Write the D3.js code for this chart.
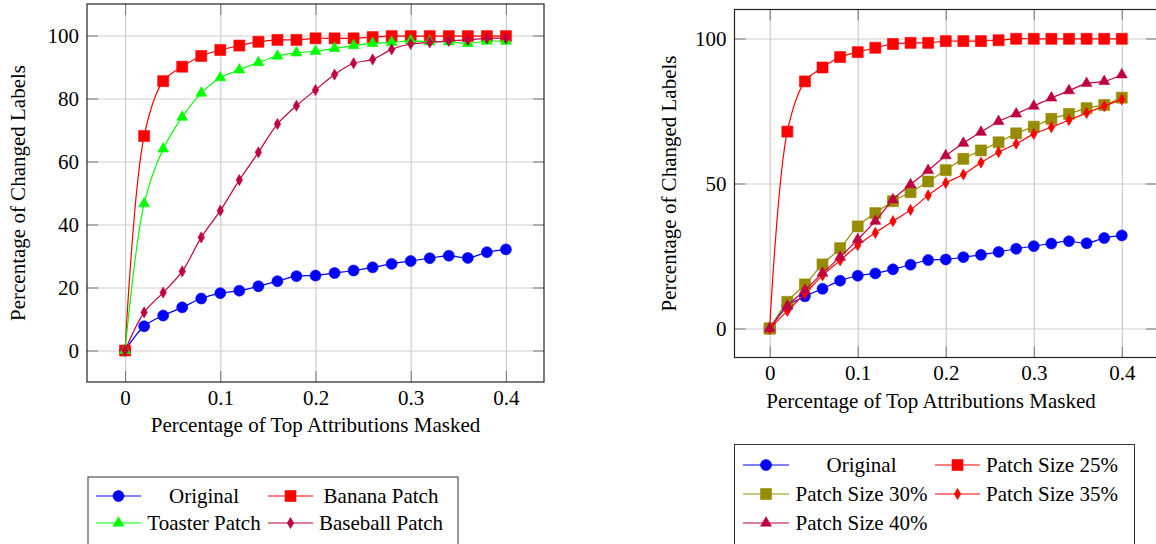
<!DOCTYPE html>
<html>
<head>
<meta charset="utf-8">
<script src="https://cdn.jsdelivr.net/npm/d3@7"></script>
<style>
  body { margin: 0; background: #fff; }
  text { font-family: "Liberation Serif", "DejaVu Serif", serif; font-size: 21px; fill: #000; }
</style>
</head>
<body>
<div id="chart"></div>
<script>
// shared x positions (fraction of top attributions masked)
const maskFractions = [0, 0.02, 0.04, 0.06, 0.08, 0.1, 0.12, 0.14, 0.16, 0.18, 0.2,
                       0.22, 0.24, 0.26, 0.28, 0.3, 0.32, 0.34, 0.36, 0.38, 0.4];
const xTicks = [0, 0.1, 0.2, 0.3, 0.4];
const xTickLabels = ["0", "0.1", "0.2", "0.3", "0.4"];
const yTicksLeft = [0, 20, 40, 60, 80, 100];
const yTicksRight = [0, 50, 100];

// left chart: patch types
const originalValues = [0, 7.7, 11.1, 13.7, 16.5, 18.2, 19.0, 20.4, 22.0, 23.6, 23.8,
                        24.6, 25.4, 26.4, 27.5, 28.4, 29.3, 30.1, 29.4, 31.2, 32.1];
const bananaValues = [0, 68.1, 85.5, 90.1, 93.5, 95.4, 96.8, 98.0, 98.6, 98.6, 99.1,
                      99.1, 99.1, 99.5, 99.8, 99.8, 99.8, 99.8, 99.8, 99.8, 99.8];
const toasterValues = [0, 46.6, 64.0, 74.1, 81.7, 86.6, 89.1, 91.4, 93.5, 94.5, 95.0,
                       95.9, 96.8, 97.5, 97.8, 98.3, 98.0, 98.0, 97.5, 98.2, 98.2];
const baseballValues = [0, 12.1, 18.4, 25.1, 35.9, 44.4, 54.1, 62.9, 71.9, 77.7, 82.7,
                        87.6, 91.2, 92.4, 95.6, 97.3, 97.8, 98.3, 98.6, 99.1, 99.1];

// right chart: patch sizes
const size25Values = [0, 67.9, 85.2, 90.0, 93.6, 95.3, 96.8, 98.1, 98.5, 98.5, 99.1,
                      99.1, 99.1, 99.4, 99.9, 99.9, 99.9, 99.9, 99.9, 99.9, 99.9];
const size30Values = [0, 9.2, 15.2, 22.1, 27.7, 35.2, 39.8, 43.9, 47.0, 50.7, 54.6,
                      58.5, 61.4, 64.2, 67.3, 69.6, 72.3, 74.0, 76.0, 77.1, 79.6];
const size35Values = [0, 6.1, 12.0, 18.3, 23.5, 28.7, 33.0, 37.0, 40.9, 45.9, 50.2,
                      53.1, 57.2, 60.8, 63.7, 67.1, 69.4, 71.9, 74.3, 76.7, 79.0];
const size40Values = [0, 7.7, 13.2, 19.1, 24.6, 30.7, 37.0, 44.4, 49.6, 54.5, 59.6,
                      63.9, 67.7, 71.4, 74.0, 76.7, 79.5, 82.0, 84.5, 85.2, 87.5];

const leftSeries = [
  { name: "Original", values: originalValues, color: "#0000ff", mark: "circle" },
  { name: "Banana Patch", values: bananaValues, color: "#ff0000", mark: "square" },
  { name: "Toaster Patch", values: toasterValues, color: "#00ff00", mark: "triangle" },
  { name: "Baseball Patch", values: baseballValues, color: "#bf0040", mark: "diamond" }
];
const rightSeries = [
  { name: "Original", values: originalValues, color: "#0000ff", mark: "circle" },
  { name: "Patch Size 25%", values: size25Values, color: "#ff0000", mark: "square" },
  { name: "Patch Size 30%", values: size30Values, color: "#968c00", mark: "square" },
  { name: "Patch Size 35%", values: size35Values, color: "#ff0000", mark: "diamond" },
  { name: "Patch Size 40%", values: size40Values, color: "#bf0040", mark: "triangle" }
];

const svg = d3.select("#chart").append("svg")
  .attr("width", 1156).attr("height", 544);

const symbols = {
  circle: d3.symbol().type(d3.symbolCircle).size(95),
  square: d3.symbol().type(d3.symbolSquare).size(121),
  triangle: d3.symbol().type(d3.symbolTriangle).size(52),
  diamond: d3.symbol().type(d3.symbolDiamond).size(36)
};

function drawPanel(cfg) {
  const x = d3.scaleLinear().domain([-0.04, 0.44]).range([cfg.left, cfg.right]);
  const y = d3.scaleLinear().domain([-10, 110]).range([cfg.bottom, cfg.top]);
  const g = svg.append("g");
  const w = cfg.right - cfg.left, h = cfg.bottom - cfg.top;

  // grid
  g.append("g").attr("transform", `translate(0,${cfg.bottom})`)
    .call(d3.axisBottom(x).tickValues(xTicks).tickSize(-h).tickFormat(""))
    .call(a => a.select(".domain").remove())
    .call(a => a.selectAll("line").attr("stroke", "#cdcdcd").attr("stroke-width", 1.2));
  g.append("g").attr("transform", `translate(${cfg.left},0)`)
    .call(d3.axisLeft(y).tickValues(cfg.yTicks).tickSize(-w).tickFormat(""))
    .call(a => a.select(".domain").remove())
    .call(a => a.selectAll("line").attr("stroke", "#cdcdcd").attr("stroke-width", 1.2));

  // inward ticks on all sides
  const tickStyle = a => {
    a.select(".domain").remove();
    a.selectAll("line").attr("stroke", "#777").attr("stroke-width", 1);
    a.selectAll("text").attr("font-family", null).attr("font-size", null);
  };
  g.append("g").attr("transform", `translate(0,${cfg.bottom})`)
    .call(d3.axisBottom(x).tickValues(xTicks).tickSizeInner(-11).tickSizeOuter(0)
      .tickPadding(8).tickFormat((d, i) => xTickLabels[i]))
    .call(tickStyle);
  g.append("g").attr("transform", `translate(0,${cfg.top})`)
    .call(d3.axisTop(x).tickValues(xTicks).tickSizeInner(-11).tickSizeOuter(0).tickFormat(""))
    .call(tickStyle);
  g.append("g").attr("transform", `translate(${cfg.left},0)`)
    .call(d3.axisLeft(y).tickValues(cfg.yTicks).tickSizeInner(-11).tickSizeOuter(0).tickPadding(8))
    .call(tickStyle);
  g.append("g").attr("transform", `translate(${cfg.right},0)`)
    .call(d3.axisRight(y).tickValues(cfg.yTicks).tickSizeInner(-11).tickSizeOuter(0).tickFormat(""))
    .call(tickStyle);

  // frame
  g.append("rect").attr("x", cfg.left).attr("y", cfg.top).attr("width", w).attr("height", h)
    .attr("fill", "none").attr("stroke", "#222").attr("stroke-width", 1.2);

  // series
  const line = d3.line().x((d, i) => x(maskFractions[i])).y(d => y(d))
    .curve(d3.curveCatmullRom.alpha(0.5));
  cfg.series.forEach(s => {
    const sg = g.append("g");
    sg.append("path").attr("d", line(s.values)).attr("fill", "none")
      .attr("stroke", s.color).attr("stroke-width", 1.2);
    sg.selectAll("path.mark").data(s.values).join("path").attr("class", "mark")
      .attr("d", symbols[s.mark]())
      .attr("transform", (d, i) => `translate(${x(maskFractions[i])},${y(d)})`)
      .attr("fill", s.color).attr("stroke", s.color).attr("stroke-width", 0.6);
  });

  // axis labels
  g.append("text").attr("x", cfg.xLabelX).attr("y", cfg.xLabelY).attr("text-anchor", "middle")
    .text("Percentage of Top Attributions Masked");
  g.append("text").attr("text-anchor", "middle")
    .attr("transform", `translate(${cfg.yLabelX},${(cfg.top + cfg.bottom) / 2}) rotate(-90)`)
    .text("Percentage of Changed Labels");

  // legend
  const L = cfg.legend;
  g.append("rect").attr("x", L.x).attr("y", L.y).attr("width", L.w).attr("height", 120)
    .attr("fill", "#fff").attr("stroke", "#333").attr("stroke-width", 1);
  cfg.series.forEach((s, i) => {
    const col = L.cols[i % 2];
    const ry = L.rows[Math.floor(i / 2)];
    g.append("line").attr("x1", col.x1).attr("x2", col.x2).attr("y1", ry).attr("y2", ry)
      .attr("stroke", s.color).attr("stroke-width", 1.2);
    g.append("path").attr("d", symbols[s.mark]())
      .attr("transform", `translate(${(col.x1 + col.x2) / 2},${ry})`)
      .attr("fill", s.color).attr("stroke", s.color).attr("stroke-width", 0.6);
    g.append("text").attr("x", col.tx).attr("y", ry).attr("dy", "0.33em")
      .attr("text-anchor", "middle").text(s.name);
  });
}

drawPanel({
  left: 87, right: 544, top: 4, bottom: 382, yTicks: yTicksLeft, series: leftSeries,
  xLabelX: 315.5, xLabelY: 432, yLabelX: 25,
  legend: { x: 88, y: 477, w: 370, rows: [496, 523],
            cols: [{ x1: 96, x2: 141, tx: 204 }, { x1: 268, x2: 313, tx: 381 }] }
});

drawPanel({
  left: 734.5, right: 1157, top: 9.5, bottom: 357.5, yTicks: yTicksRight, series: rightSeries,
  xLabelX: 931, xLabelY: 408, yLabelX: 676,
  legend: { x: 734.5, y: 444.5, w: 400, rows: [465, 494, 523],
            cols: [{ x1: 743, x2: 789, tx: 861.5 }, { x1: 935, x2: 980, tx: 1052 }] }
});
</script>
</body>
</html>
